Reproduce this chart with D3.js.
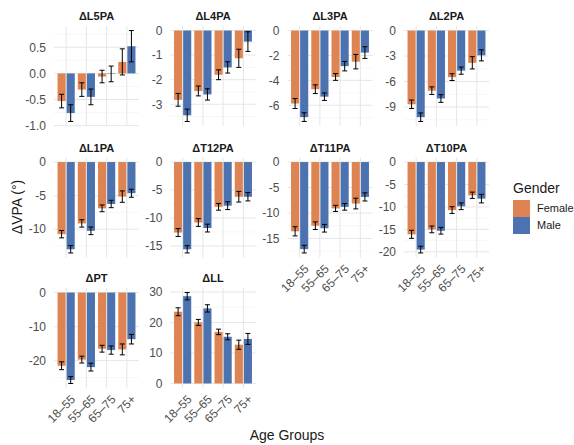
<!DOCTYPE html>
<html>
<head>
<meta charset="utf-8">
<script src="https://cdn.jsdelivr.net/npm/d3@7"></script>
<style>
  body { margin: 0; background: #fff; }
  svg { font-family: "Liberation Sans", Arial, sans-serif; }
</style>
</head>
<body>
<div id="chart"></div>
<script>
// categories & series
const categories = ['18–55', '55–65', '65–75', '75+'];
const genders = ['Female', 'Male'];
const panelTitles = ['ΔL5PA', 'ΔL4PA', 'ΔL3PA', 'ΔL2PA', 'ΔL1PA', 'ΔT12PA', 'ΔT11PA', 'ΔT10PA', 'ΔPT', 'ΔLL'];

// mean values, one row per panel (18–55, 55–65, 65–75, 75+)
const femaleMeans = [
  [-0.53, -0.31, -0.06, 0.22],
  [-2.82, -2.46, -1.80, -1.13],
  [-5.86, -4.71, -3.73, -2.50],
  [-8.68, -7.08, -5.48, -3.80],
  [-10.75, -9.15, -6.90, -5.15],
  [-12.6, -10.8, -8.0, -6.2],
  [-13.6, -12.5, -9.1, -8.15],
  [-16.1, -15.0, -10.7, -7.4],
  [-21.5, -19.7, -16.5, -16.7],
  [23.5, 20.0, 16.9, 12.7]
];
const maleMeans = [
  [-0.76, -0.45, -0.01, 0.52],
  [-3.45, -2.60, -1.50, -0.45],
  [-6.95, -5.31, -2.86, -1.77],
  [-10.2, -8.0, -4.72, -2.92],
  [-13.0, -10.25, -6.25, -4.65],
  [-15.6, -11.8, -7.8, -6.2],
  [-17.1, -13.0, -8.8, -6.85],
  [-19.5, -15.3, -9.85, -8.15],
  [-25.7, -21.9, -16.9, -13.7],
  [28.6, 24.6, 15.3, 14.6]
];
// error bar half-widths
const femaleErr = [
  [0.13, 0.13, 0.12, 0.25],
  [0.26, 0.20, 0.20, 0.37],
  [0.40, 0.35, 0.27, 0.58],
  [0.50, 0.45, 0.40, 0.72],
  [0.55, 0.55, 0.50, 0.85],
  [0.70, 0.70, 0.60, 0.95],
  [0.90, 0.75, 0.60, 1.05],
  [0.90, 0.75, 0.75, 0.70],
  [1.15, 1.00, 1.00, 1.60],
  [1.30, 1.00, 0.90, 1.50]
];
const maleErr = [
  [0.16, 0.15, 0.15, 0.30],
  [0.25, 0.23, 0.23, 0.40],
  [0.35, 0.30, 0.38, 0.47],
  [0.50, 0.45, 0.42, 0.65],
  [0.55, 0.57, 0.55, 0.60],
  [0.65, 0.70, 0.70, 0.75],
  [0.75, 0.75, 0.65, 0.80],
  [0.75, 0.75, 0.75, 0.95],
  [1.00, 1.15, 1.20, 1.40],
  [1.20, 1.20, 1.00, 1.80]
];
// y tick values per panel
const yTicks = [
  [-1, -0.5, 0, 0.5],
  [-3, -2, -1, 0],
  [-6, -4, -2, 0],
  [-9, -6, -3, 0],
  [-10, -5, 0],
  [-15, -10, -5, 0],
  [-15, -10, -5, 0],
  [-20, -15, -10, -5, 0],
  [-20, -10, 0],
  [0, 10, 20, 30]
];

const colors = d3.scaleOrdinal().domain(genders).range(['#DD8452', '#4C72B0']);

const W = 574, H = 445;
const colLeft = [54, 170.5, 287.5, 404];
const rowTop = [26, 157.5, 288];
const pw = 85, ph = 100;
const xLabelPanels = [6, 7, 8, 9];

const svg = d3.select('#chart').append('svg')
  .attr('width', W).attr('height', H);

panelTitles.forEach((title, p) => {
  const left = colLeft[p % 4], top = rowTop[Math.floor(p / 4)];
  const g = svg.append('g').attr('transform', `translate(${left},${top})`);

  const rows = categories.map((c, i) => ({
    cat: c,
    vals: [
      { g: 'Female', v: femaleMeans[p][i], e: femaleErr[p][i] },
      { g: 'Male', v: maleMeans[p][i], e: maleErr[p][i] }
    ]
  }));
  const flat = rows.flatMap(r => r.vals);
  let lo = Math.min(0, d3.min(flat, d => d.v - d.e));
  let hi = Math.max(0, d3.max(flat, d => d.v + d.e));
  const pad = (hi - lo) * 0.05;

  const x0 = d3.scaleBand().domain(categories).range([0, pw])
    .paddingInner(0.1).paddingOuter(0.15);
  const x1 = d3.scaleBand().domain(genders).range([0, x0.bandwidth()])
    .paddingInner(1 / 9).paddingOuter(1 / 18);
  const y = d3.scaleLinear().domain([lo - pad, hi + pad]).range([ph, 0]);

  // minor grid
  const ticks = yTicks[p];
  const step = ticks[1] - ticks[0];
  const minor = [];
  for (let t = ticks[0] - step / 2; t <= y.domain()[1]; t += step) {
    if (t >= y.domain()[0]) minor.push(t);
  }
  g.selectAll('.minor').data(minor).enter().append('line')
    .attr('x1', 0).attr('x2', pw)
    .attr('y1', d => y(d)).attr('y2', d => y(d))
    .attr('stroke', '#f2f2f2').attr('stroke-width', 0.6);

  // major grid
  g.selectAll('.hgrid').data(ticks).enter().append('line')
    .attr('x1', 0).attr('x2', pw)
    .attr('y1', d => y(d)).attr('y2', d => y(d))
    .attr('stroke', '#e6e6e6').attr('stroke-width', 1);
  g.selectAll('.vgrid').data(categories).enter().append('line')
    .attr('x1', d => x0(d) + x0.bandwidth() / 2).attr('x2', d => x0(d) + x0.bandwidth() / 2)
    .attr('y1', 0).attr('y2', ph)
    .attr('stroke', '#e6e6e6').attr('stroke-width', 1);

  // y axis labels
  const fmt = p === 0 ? (d => d.toFixed(1)) : (d => String(d));
  const yAxis = d3.axisLeft(y).tickValues(ticks).tickSize(0).tickPadding(8).tickFormat(fmt);
  const ya = g.append('g').call(yAxis);
  ya.select('.domain').remove();
  ya.selectAll('text').attr('fill', '#4d4d4d').attr('font-size', 12);

  // bars
  const cg = g.selectAll('.cat').data(rows).enter().append('g')
    .attr('transform', d => `translate(${x0(d.cat)},0)`);
  cg.selectAll('rect').data(d => d.vals).enter().append('rect')
    .attr('x', d => x1(d.g))
    .attr('width', x1.bandwidth())
    .attr('y', d => y(Math.max(0, d.v)))
    .attr('height', d => Math.abs(y(d.v) - y(0)))
    .attr('fill', d => colors(d.g));

  // error bars
  const cap = 2.5;
  const eb = cg.selectAll('.err').data(d => d.vals).enter().append('g')
    .attr('stroke', '#000').attr('stroke-width', 1);
  eb.append('line')
    .attr('x1', d => x1(d.g) + x1.bandwidth() / 2).attr('x2', d => x1(d.g) + x1.bandwidth() / 2)
    .attr('y1', d => y(d.v + d.e)).attr('y2', d => y(d.v - d.e));
  eb.append('line')
    .attr('x1', d => x1(d.g) + x1.bandwidth() / 2 - cap).attr('x2', d => x1(d.g) + x1.bandwidth() / 2 + cap)
    .attr('y1', d => y(d.v + d.e)).attr('y2', d => y(d.v + d.e));
  eb.append('line')
    .attr('x1', d => x1(d.g) + x1.bandwidth() / 2 - cap).attr('x2', d => x1(d.g) + x1.bandwidth() / 2 + cap)
    .attr('y1', d => y(d.v - d.e)).attr('y2', d => y(d.v - d.e));

  // title
  g.append('text')
    .attr('x', pw / 2).attr('y', -6)
    .attr('text-anchor', 'middle')
    .attr('font-size', 11).attr('font-weight', 'bold').attr('fill', '#1a1a1a')
    .text(title);

  // x labels
  if (xLabelPanels.includes(p)) {
    g.selectAll('.xl').data(categories).enter().append('text')
      .attr('transform', d => `translate(${x0(d) + x0.bandwidth() / 2 + 4},${ph + 6}) rotate(-45)`)
      .attr('text-anchor', 'end')
      .attr('dy', '0.7em')
      .attr('font-size', 12).attr('fill', '#4d4d4d')
      .text(d => d);
  }
});

// axis titles
svg.append('text')
  .attr('transform', 'translate(22,207) rotate(-90)')
  .attr('text-anchor', 'middle')
  .attr('font-size', 14).attr('fill', '#1a1a1a')
  .text('ΔVPA (°)');
svg.append('text')
  .attr('x', 287).attr('y', 440)
  .attr('text-anchor', 'middle')
  .attr('font-size', 14).attr('fill', '#1a1a1a')
  .text('Age Groups');

// legend
const lg = svg.append('g').attr('transform', 'translate(513,0)');
lg.append('text').attr('x', 0).attr('y', 193)
  .attr('font-size', 14).attr('fill', '#1a1a1a').text('Gender');
lg.selectAll('rect').data(genders).enter().append('rect')
  .attr('x', 0).attr('y', (d, i) => 200 + i * 17)
  .attr('width', 17).attr('height', 17)
  .attr('fill', d => colors(d));
lg.selectAll('.lt').data(genders).enter().append('text')
  .attr('x', 24).attr('y', (d, i) => 208.5 + i * 17)
  .attr('dy', '0.35em')
  .attr('font-size', 11).attr('fill', '#1a1a1a')
  .text(d => d);
</script>
</body>
</html>
